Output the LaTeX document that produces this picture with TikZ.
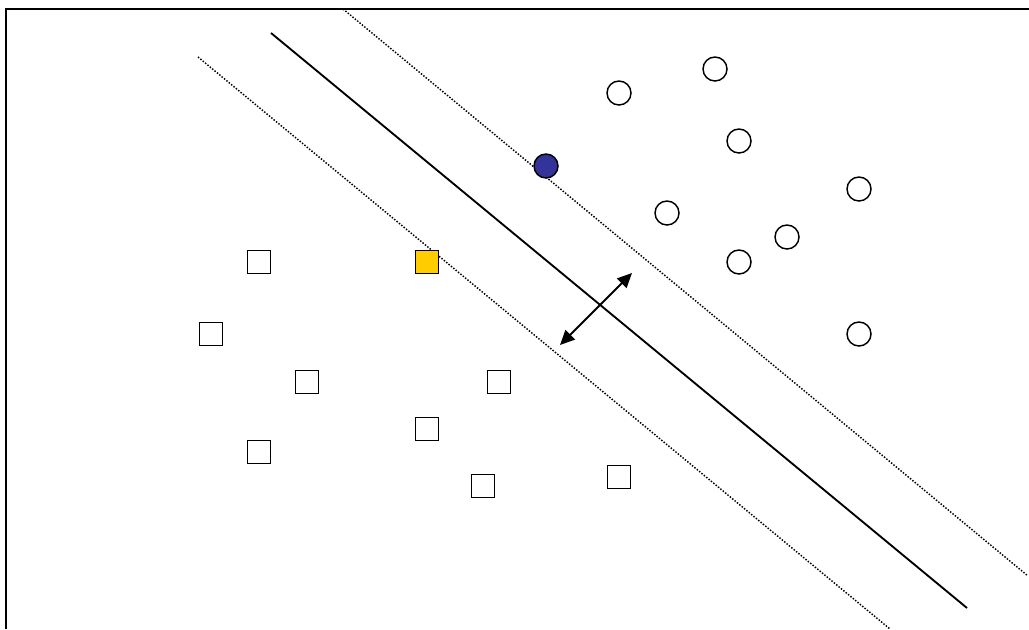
\documentclass[tikz,border=0pt]{standalone}
\usetikzlibrary{arrows.meta}
\definecolor{svblue}{RGB}{51,51,153}
\definecolor{svyellow}{RGB}{255,204,0}
\tikzset{
  posclass/.style={circle, draw, line width=1.1pt, fill=white, minimum size=18pt, inner sep=0pt},
  negclass/.style={rectangle, draw, line width=1.1pt, fill=white, minimum size=17pt, inner sep=0pt},
  marginline/.style={line width=1.1pt, dash pattern=on 1.1pt off 1.2pt},
}
\begin{document}
\begin{tikzpicture}[x=0.75pt, y=-0.75pt, >={Triangle[length=11pt, width=10pt]}]
    \useasboundingbox (0,0) rectangle (1029,629);

    % frame
    \draw[line width=1.6pt] (6,629) -- (6,9) -- (1029,9);

    % hyperplane and margins
    \coordinate (H1) at (271,33);
    \coordinate (H2) at (967,608);
    \coordinate (U1) at (343,9);
    \coordinate (U2) at (1028,576);
    \coordinate (L1) at (198,57);
    \coordinate (L2) at (890,629);
    \draw[marginline] (U1) -- (U2);
    \draw[marginline] (L1) -- (L2);
    \draw[line width=1.4pt] (H1) -- (H2);

    % positive class
    \node[posclass] (c1) at (715,69) {};
    \node[posclass] (c2) at (619,93) {};
    \node[posclass] (c3) at (739,141) {};
    \node[posclass] (c4) at (859,189) {};
    \node[posclass] (c5) at (667,213) {};
    \node[posclass] (c6) at (787,237) {};
    \node[posclass] (c7) at (739,262) {};
    \node[posclass] (c8) at (859,334) {};
    \node[posclass, fill=svblue] (sv1) at (546,166) {};

    % negative class
    \node[negclass] (s1) at (259,262) {};
    \node[negclass] (s2) at (211,334) {};
    \node[negclass] (s3) at (307,382) {};
    \node[negclass] (s4) at (499,382) {};
    \node[negclass] (s5) at (427,429) {};
    \node[negclass] (s6) at (259,452) {};
    \node[negclass] (s7) at (483,486) {};
    \node[negclass] (s8) at (619,477) {};
    \node[negclass, fill=svyellow] (sv2) at (427,262) {};

    % margin width
    \coordinate (A1) at (560,345);
    \coordinate (A2) at (632,273);
    \draw[<->, line width=1.4pt] (A1) -- (A2);
\end{tikzpicture}
\end{document}
